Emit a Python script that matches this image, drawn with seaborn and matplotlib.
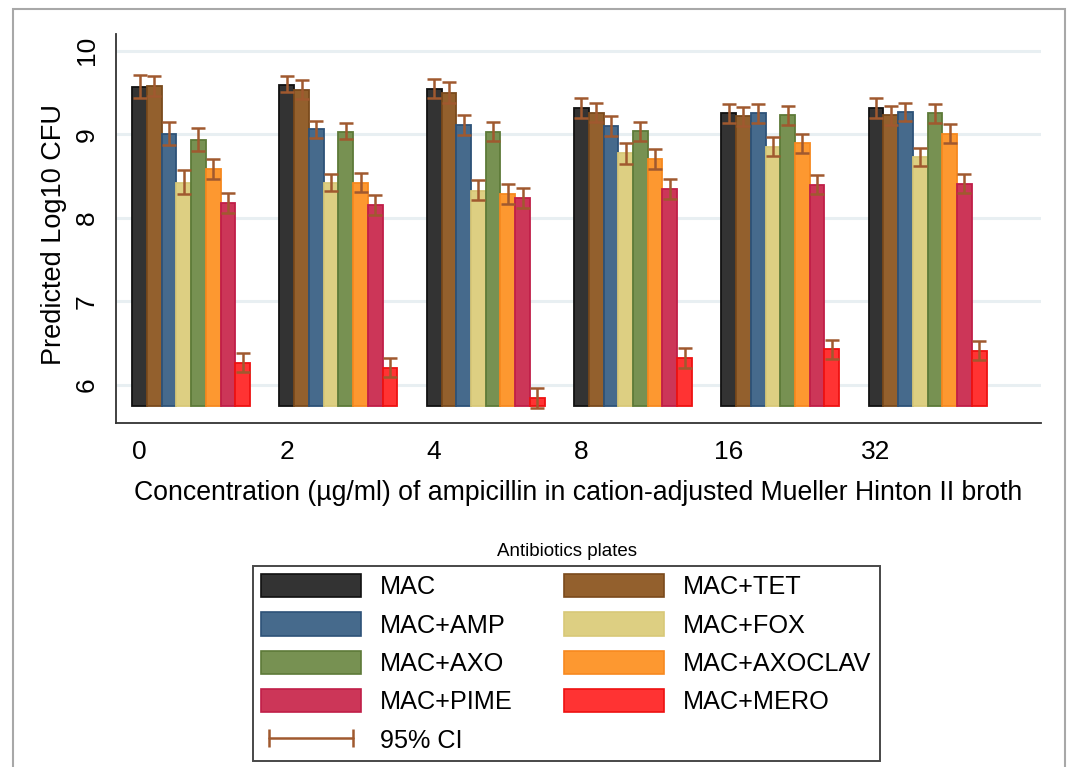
import matplotlib
matplotlib.use("Agg")
import numpy as np
import pandas as pd
import matplotlib.pyplot as plt
from matplotlib.patches import Patch, Rectangle
from matplotlib.lines import Line2D
import seaborn as sns

# ---------------- data ----------------
concentrations = ["0", "2", "4", "8", "16", "32"]
plates = ["MAC", "MAC+TET", "MAC+AMP", "MAC+FOX",
          "MAC+AXO", "MAC+AXOCLAV", "MAC+PIME", "MAC+MERO"]

mac = [9.57, 9.59, 9.54, 9.32, 9.25, 9.32]
mac_lo = [9.44, 9.50, 9.43, 9.20, 9.13, 9.20]
mac_hi = [9.71, 9.70, 9.66, 9.44, 9.36, 9.43]

tet = [9.58, 9.53, 9.49, 9.26, 9.22, 9.23]
tet_lo = [9.46, 9.42, 9.38, 9.15, 9.10, 9.11]
tet_hi = [9.70, 9.65, 9.62, 9.38, 9.33, 9.34]

amp = [9.00, 9.06, 9.11, 9.10, 9.25, 9.27]
amp_lo = [8.87, 8.96, 8.99, 8.98, 9.13, 9.16]
amp_hi = [9.15, 9.16, 9.23, 9.22, 9.36, 9.38]

fox = [8.42, 8.42, 8.32, 8.77, 8.85, 8.73]
fox_lo = [8.29, 8.32, 8.21, 8.65, 8.74, 8.62]
fox_hi = [8.57, 8.52, 8.45, 8.89, 8.97, 8.84]

axo = [8.93, 9.03, 9.03, 9.04, 9.23, 9.25]
axo_lo = [8.80, 8.94, 8.92, 8.92, 9.11, 9.13]
axo_hi = [9.08, 9.14, 9.15, 9.15, 9.34, 9.36]

axoclav = [8.58, 8.42, 8.28, 8.70, 8.89, 9.00]
axoclav_lo = [8.47, 8.31, 8.17, 8.59, 8.78, 8.89]
axoclav_hi = [8.70, 8.54, 8.40, 8.82, 9.00, 9.12]

pime = [8.18, 8.15, 8.24, 8.34, 8.39, 8.41]
pime_lo = [8.06, 8.04, 8.12, 8.22, 8.28, 8.30]
pime_hi = [8.30, 8.27, 8.36, 8.46, 8.51, 8.52]

mero = [6.26, 6.20, 5.84, 6.32, 6.43, 6.41]
mero_lo = [6.16, 6.09, 5.73, 6.20, 6.31, 6.30]
mero_hi = [6.38, 6.32, 5.96, 6.44, 6.54, 6.53]

y_ticks = [6, 7, 8, 9, 10]
bar_base = 5.75

values = [mac, tet, amp, fox, axo, axoclav, pime, mero]
lows = [mac_lo, tet_lo, amp_lo, fox_lo, axo_lo, axoclav_lo, pime_lo, mero_lo]
highs = [mac_hi, tet_hi, amp_hi, fox_hi, axo_hi, axoclav_hi, pime_hi, mero_hi]

fill_colors = ["#333333", "#93602d", "#466a8c", "#ddcf82",
               "#779152", "#fd9830", "#cc3658", "#ff3333"]
edge_colors = ["#111111", "#7a4a1c", "#2d5278", "#d8c878",
               "#5d7a38", "#f7891f", "#c01e48", "#ee1111"]
ci_color = "#a0592f"

df = pd.DataFrame({
    "conc": np.tile(concentrations, len(plates)),
    "plate": np.repeat(plates, len(concentrations)),
    "value": np.concatenate(values),
})

# ---------------- style ----------------
sns.set_style("white")
plt.rcParams["font.family"] = ["Liberation Sans", "DejaVu Sans"]
plt.rcParams["text.color"] = "black"
plt.rcParams["axes.labelcolor"] = "black"
plt.rcParams["xtick.color"] = "black"
plt.rcParams["ytick.color"] = "black"

W, H = 1068, 767
fig = plt.figure(figsize=(W / 100, H / 100), dpi=100)
ax_l, ax_r, ax_t, ax_b = 116, 1041, 34, 423
ax = fig.add_axes([ax_l / W, 1 - ax_b / H, (ax_r - ax_l) / W, (ax_b - ax_t) / H])

sns.barplot(data=df, x="conc", y="value", hue="plate", order=concentrations,
            hue_order=plates, palette=fill_colors, saturation=1, width=0.8,
            errorbar=None, legend=False, ax=ax, linewidth=1.3, zorder=2)

bar_containers = list(ax.containers)
for i, cont in enumerate(bar_containers):
    xs = []
    for p in cont.patches:
        h = p.get_height()
        p.set_y(bar_base)
        p.set_height(h - bar_base)
        p.set_edgecolor(edge_colors[i])
        xs.append(p.get_x() + p.get_width() / 2)
    v = np.array(values[i])
    lo = np.array(lows[i])
    hi = np.array(highs[i])
    ax.errorbar(xs, v, yerr=[v - lo, hi - v], fmt="none", ecolor=ci_color,
                elinewidth=1.8, capsize=4.9, capthick=1.8, zorder=3)

ax.set_ylim(5.545, 10.2)
ax.set_xlim(-0.51, 5.77)
ax.set_yticks(y_ticks)
ax.set_yticklabels([str(t) for t in y_ticks], rotation=90, va="center",
                   fontsize=19)
ax.set_xticks(np.arange(len(concentrations)) - 0.35)
ax.set_xticklabels(concentrations, fontsize=19)
ax.tick_params(axis="both", direction="out", length=7.5, width=1.1,
               color="#333333", labelcolor="black")
ax.tick_params(axis="x", pad=5)
ax.tick_params(axis="y", pad=5)
ax.yaxis.grid(True, color="#e8eff2", linewidth=2.2)
ax.xaxis.grid(False)
ax.set_axisbelow(True)
for s in ["top", "right"]:
    ax.spines[s].set_visible(False)
for s in ["left", "bottom"]:
    ax.spines[s].set_color("#333333")
    ax.spines[s].set_linewidth(1.3)
ax.set_xlabel("")
ax.set_ylabel("")

fig.text(578 / W, 1 - 493 / H,
         "Concentration (\u00b5g/ml) of ampicillin in cation-adjusted Mueller Hinton II broth",
         ha="center", va="center", fontsize=19.2)
fig.text(54 / W, 1 - 234 / H, "Predicted Log10 CFU", rotation=90,
         ha="center", va="center", fontsize=19.5)

# legend
patch_handles = [Patch(facecolor=fill_colors[i], edgecolor=edge_colors[i],
                       linewidth=1.2, label=plates[i]) for i in range(len(plates))]
ci_handle = Line2D([], [], color=ci_color, lw=1.8, marker="|", markersize=13,
                   markeredgewidth=1.8, label="95% CI")
handles = [patch_handles[i] for i in [0, 2, 4, 6]] + [ci_handle] + \
          [patch_handles[i] for i in [1, 3, 5, 7]]
leg = fig.legend(handles=handles, ncol=2, loc="upper left",
                 bbox_to_anchor=(253 / W, 1 - 566 / H),
                 bbox_transform=fig.transFigure, frameon=True, fancybox=False,
                 edgecolor="#1a1a1a", fontsize=18.2, handlelength=3.95,
                 handleheight=1.03, handletextpad=0.75, columnspacing=2.05,
                 labelspacing=0.52, borderpad=0.32, borderaxespad=0,
                 numpoints=2)
leg.get_frame().set_linewidth(1.4)
fig.text(567 / W, 1 - 551 / H, "Antibiotics plates", ha="center",
         va="center", fontsize=13.5)

# outer frame
fig.add_artist(Rectangle((13 / W, -0.05), (1065 - 13) / W, 1.05 - 9 / H,
                         transform=fig.transFigure, fill=False,
                         edgecolor="#a8a8a8", linewidth=1.5))

fig.savefig("out.png", dpi=100)
